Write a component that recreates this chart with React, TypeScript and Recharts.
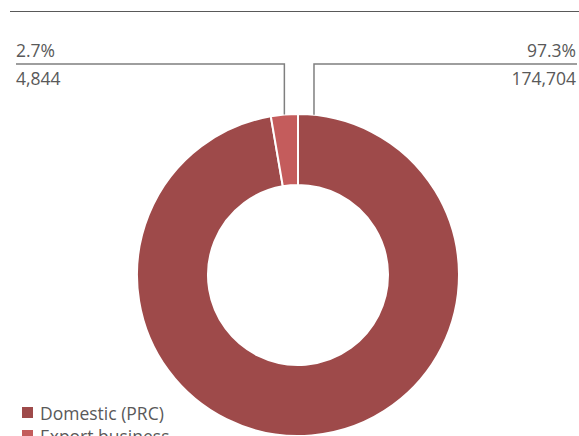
import { PieChart, Pie, Cell, Legend } from 'recharts';

const categories = ['Domestic (PRC)', 'Export business'];
const values = [174704, 4844];
const shareLabels = ['97.3%', '2.7%'];
const valueLabels = ['174,704', '4,844'];

const COLORS = ['#9E4A4A', '#C45C5C'];
const TEXT = '#595959';
const FONT = '"Open Sans", "Noto Sans", sans-serif';

const data = categories.map((name, i) => ({ name, value: values[i] }));

const W = 579;
const H = 436;

function renderLabel(props: any) {
  const { cx, cy, outerRadius, midAngle, startAngle, index } = props;
  const RAD = Math.PI / 180;
  // domestic leader sits just right of the top, export at its own mid angle
  const ang = index === 0 ? startAngle - 5.7 : midAngle;
  const x0 = cx + outerRadius * Math.cos(-ang * RAD);
  const y0 = cy + outerRadius * Math.sin(-ang * RAD);
  const yLine = cy - outerRadius - 50;
  const right = index === 0;
  const xEnd = right ? W - 2 : 16;
  return (
    <g key={`lbl-${index}`}>
      <polyline
        points={`${x0},${y0} ${x0},${yLine} ${xEnd},${yLine}`}
        fill="none"
        stroke="#7F7F7F"
        strokeWidth={1.5}
      />
      <text
        x={right ? W - 3 : 16}
        y={yLine - 7}
        textAnchor={right ? 'end' : 'start'}
        fill={TEXT}
        fontSize={17.5}
        fontFamily={FONT}
      >
        {shareLabels[index]}
      </text>
      <text
        x={right ? W - 3 : 16}
        y={yLine + 21}
        textAnchor={right ? 'end' : 'start'}
        fill={TEXT}
        fontSize={17.5}
        fontFamily={FONT}
      >
        {valueLabels[index]}
      </text>
    </g>
  );
}

function renderLegend() {
  return (
    <div style={{ fontFamily: FONT, fontSize: 17.5, color: TEXT }}>
      {categories.map((c, i) => (
        <div key={c} style={{ display: 'flex', alignItems: 'center', height: 23 }}>
          <span
            style={{
              display: 'inline-block',
              width: 11,
              height: 11,
              background: COLORS[i],
              marginRight: 7,
            }}
          />
          <span>{c}</span>
        </div>
      ))}
    </div>
  );
}

export default function App() {
  return (
    <div style={{ position: 'relative', width: W, height: H, overflow: 'hidden', background: '#fff' }}>
      <style>{'body{margin:0}'}</style>
      <div
        style={{
          position: 'absolute',
          left: 10,
          top: 11,
          width: W - 10,
          height: 0,
          borderTop: '1.5px solid #595959',
        }}
      />
      <PieChart width={W} height={H}>
        <Pie
          data={data}
          dataKey="value"
          nameKey="name"
          cx={293}
          cy={270}
          innerRadius={90}
          outerRadius={161}
          startAngle={90}
          endAngle={-270}
          stroke="#fff"
          strokeWidth={2}
          label={renderLabel}
          labelLine={false}
          isAnimationActive={false}
        >
          {data.map((_, i) => (
            <Cell key={i} fill={COLORS[i]} />
          ))}
        </Pie>
        <Legend
          content={renderLegend}
          wrapperStyle={{ left: 22, top: 401, width: 200 }}
        />
      </PieChart>
    </div>
  );
}
